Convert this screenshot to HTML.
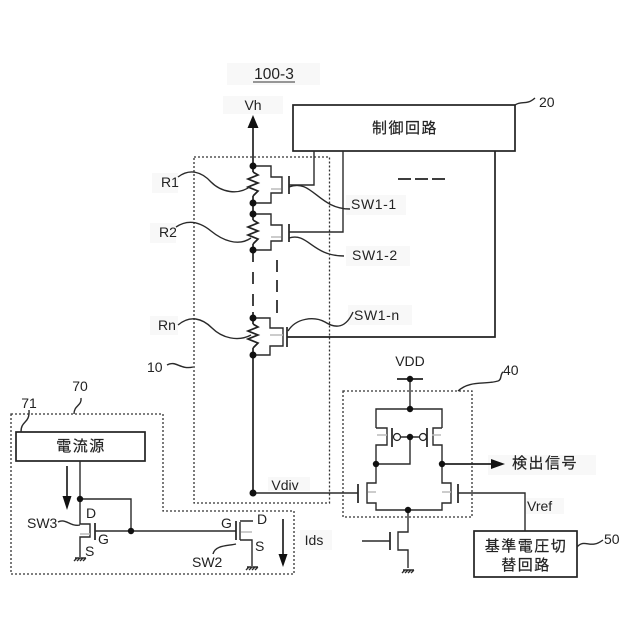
<!DOCTYPE html>
<html><head><meta charset="utf-8"><style>
html,body{margin:0;padding:0;background:#fff}
svg{display:block}
text{font-family:"Liberation Sans","Noto Sans CJK JP",sans-serif;fill:#222;font-size:14px}
.m{text-anchor:middle}
.l{fill:none;stroke:#222;stroke-width:1.7}
.t{fill:none;stroke:#2a2a2a;stroke-width:1.4}
.d{fill:none;stroke:#333;stroke-width:1.3;stroke-dasharray:2 2}
.g{fill:none;stroke:#bbb;stroke-width:1.5}
.bg{fill:#f8f8f8}
.c{font-size:15px;letter-spacing:1.5px;stroke:#222;stroke-width:.2}
.s{letter-spacing:.6px}
</style></head><body>
<svg width="640" height="640" viewBox="0 0 640 640" xmlns="http://www.w3.org/2000/svg">
<rect width="640" height="640" fill="#fff"/>
<!-- label backgrounds -->
<rect class="bg" x="227" y="63" width="93" height="22"/>
<rect class="bg" x="223" y="96" width="60" height="18"/>
<rect class="bg" x="152" y="173" width="26" height="20"/>
<rect class="bg" x="150" y="223" width="26" height="20"/>
<rect class="bg" x="150" y="316" width="28" height="19"/>
<rect class="bg" x="346" y="195" width="60" height="20"/>
<rect class="bg" x="346" y="246" width="64" height="20"/>
<rect class="bg" x="348" y="305" width="64" height="20"/>
<rect class="bg" x="268" y="477" width="42" height="14"/>
<rect class="bg" x="488" y="455" width="108" height="20"/>
<rect class="bg" x="526" y="498" width="38" height="16"/>
<rect class="bg" x="300" y="530" width="32" height="20"/>

<!-- dotted boxes -->
<rect class="d" x="194" y="157" width="135.500" height="346"/>
<rect class="d" x="343" y="391" width="129" height="126"/>
<path class="d" d="M11 414H163V511H294V574H11Z"/>

<!-- boxes -->
<rect class="l" x="293" y="105" width="222" height="46"/>
<rect class="l" x="474" y="531" width="103" height="46"/>
<rect class="l" x="16" y="432" width="129" height="29"/>

<!-- main rail -->
<path class="l" d="M253 128V250"/>
<path d="M253 115L258.500 128H247.500Z" fill="#111"/>
<path class="l" d="M253 250V262M253 272V284M253 294V306M253 312V493"/>
<path class="l" d="M277 260V272M277 280V292M277 300V313" stroke-width="1.2"/>
<!-- white behind resistors -->
<rect x="247" y="172" width="12" height="24" fill="#fff"/>
<rect x="247" y="220" width="12" height="24" fill="#fff"/>
<rect x="247" y="324" width="12" height="24" fill="#fff"/>
<path class="l" d="M253 172L258 175L248 179L258 183L248 187L258 191L253 196"/>
<path class="l" d="M253 220L258 223L248 227L258 231L248 235L258 239L253 244"/>
<path class="l" d="M253 324L258 327L248 331L258 335L248 339L258 343L253 348"/>

<!-- SW1-1 -->
<path class="t" d="M253 166H271V177H282V193H271V203H253"/>
<path class="g" d="M271 189H281"/>
<path class="l" d="M289 176V194"/>
<path class="t" d="M289 185H314V151"/>
<!-- SW1-2 -->
<path class="t" d="M253 214H271V225H282V241H271V250H253"/>
<path class="g" d="M271 237H281"/>
<path class="l" d="M289 224V242"/>
<path class="t" d="M289 232H343V151"/>
<!-- SW1-n -->
<path class="t" d="M253 318H270V328H283V346H270V355H253"/>
<path class="g" d="M270 335H283"/>
<path class="l" d="M287 327V347"/>
<path class="l" d="M287 337H495V151"/>

<circle cx="253" cy="166" r="3.500" fill="#111"/>
<circle cx="253" cy="203" r="3.500" fill="#111"/>
<circle cx="253" cy="214" r="3.500" fill="#111"/>
<circle cx="253" cy="250" r="3.500" fill="#111"/>
<circle cx="253" cy="318" r="3.500" fill="#111"/>
<circle cx="253" cy="355" r="3.500" fill="#111"/>
<path class="l" d="M398 179H411M415 179H428M432 179H445"/>

<!-- squiggles -->
<path class="t" d="M178 177C190 168 202 172 211 182C221 192 238 196 251 186"/>
<path class="t" d="M176 227C188 219 200 222 211 231C222 240 238 247 251 238"/>
<path class="t" d="M178 325C190 315 202 318 212 328C222 338 238 342 251 335"/>
<path class="t" d="M167 365C176 360 180 370 193 367"/>
<path class="t" d="M289 187C312 178 318 209 350 209"/>
<path class="t" d="M289 238C308 232 312 256 344 256"/>
<path class="t" d="M288 331C296 318 314 316 325 322C336 329 346 328 353 312"/>
<path class="t" d="M515 105C522 100 526 106 535 98"/>
<path class="t" d="M577 547C585 538 590 550 603 540"/>
<path class="t" d="M458 391C470 380 485 385 498 381C502 380 500 374 503 372"/>
<path class="t" d="M21 432C21 420 30 424 29 410"/>
<path class="t" d="M74 414C74 405 82 406 81 398"/>
<path class="t" d="M58 522C66 518 70 527 80 525"/>
<path class="t" d="M213 554C215 545 228 546 236 544"/>

<!-- comparator -->
<path class="l" d="M397 379H423"/>
<path class="t" d="M410 379V409M376 428V409H442V428"/>
<path class="t" d="M376 428H387V445H376V464M442 428H433V445H442V464"/>
<path class="g" d="M377 435H387M432 435H441"/>
<path class="l" d="M392 428V447M427 428V447"/>
<circle cx="397" cy="437" r="3.500" fill="#fff" stroke="#222" stroke-width="1.200"/>
<circle cx="423" cy="437" r="3.500" fill="#fff" stroke="#222" stroke-width="1.200"/>
<path class="t" d="M401 437H419M410 437V464H376"/>
<path class="l" d="M442 464H492"/>
<path d="M505 464L491 459V469Z" fill="#111"/>
<path class="t" d="M376 464V483H367V503H376V510H442V503H451V483H442V464"/>
<path class="g" d="M368 492H376M442 492H451"/>
<path class="l" d="M358 484V503M458 484V503"/>
<path class="t" d="M253 493H358M458 493H525V531"/>
<path class="t" d="M408 510V532H398V550H408V568"/>
<path class="l" d="M390 532V550"/>
<path class="t" d="M362 541H390"/>
<path class="t" d="M403 570H414M402 573L405 570M405 573L408 570M408 573L411 570M411 573L414 570"/>
<circle cx="410" cy="379" r="3.200" fill="#111"/>
<circle cx="410" cy="409" r="3.200" fill="#111"/>
<circle cx="410" cy="437" r="3.200" fill="#111"/>
<circle cx="376" cy="464" r="3.200" fill="#111"/>
<circle cx="442" cy="464" r="3.200" fill="#111"/>
<circle cx="408" cy="510" r="3.200" fill="#111"/>

<!-- current source & SW3 / SW2 -->
<path class="t" d="M80 461V524H90V537H80V557"/>
<path class="t" d="M80 499H131V531"/>
<path class="g" d="M80 534H90"/>
<path class="l" d="M95 523V540"/>
<path class="t" d="M95 531H236"/>
<path class="l" d="M236 521V540"/>
<path class="t" d="M240 522V540M240 521H253M240 540H252V566"/>
<path class="g" d="M241 532H252"/>
<path class="t" d="M75 558H86M74 561L77 558M77 561L80 558M80 561L83 558M83 561L86 558"/>
<path class="t" d="M247 567H258M246 570L249 567M249 570L252 567M252 570L255 567M255 570L258 567"/>
<circle cx="80" cy="499" r="3.200" fill="#111"/>
<circle cx="131" cy="531" r="3.200" fill="#111"/>
<circle cx="253" cy="493" r="3.500" fill="#111"/>
<path class="l" d="M67 466V498"/>
<path d="M67 510L62.500 496H71.500Z" fill="#111"/>
<path class="l" d="M283 519V556"/>
<path d="M283 567L278.500 554H287.500Z" fill="#111"/>

<!-- text -->
<text class="m" x="274" y="79" style="font-size:15.500px">100-3</text>
<path d="M253 82H295" stroke="#333" stroke-width="1"/>
<text class="m" x="253" y="110">Vh</text>
<text class="m c" x="405" y="133">制御回路</text>
<text x="539" y="107">20</text>
<text x="161" y="187">R1</text>
<text x="159" y="237">R2</text>
<text x="158" y="330">Rn</text>
<text x="147" y="372">10</text>
<text class="s" x="351" y="209">SW1-1</text>
<text class="s" x="352" y="260">SW1-2</text>
<text class="s" x="354" y="320">SW1-n</text>
<text class="m" x="410" y="366">VDD</text>
<text x="503" y="375">40</text>
<text class="c" x="512" y="468">検出信号</text>
<text x="527" y="511">Vref</text>
<text class="m c" x="526" y="551">基準電圧切</text>
<text class="m c" x="526" y="570">替回路</text>
<text x="604" y="544">50</text>
<text class="m" x="285" y="490">Vdiv</text>
<text class="m" x="80" y="391">70</text>
<text class="m" x="29" y="408">71</text>
<text class="m c" x="81" y="451">電流源</text>
<text x="27" y="528">SW3</text>
<text x="86" y="518">D</text>
<text x="98" y="544">G</text>
<text x="85" y="556">S</text>
<text x="221" y="528">G</text>
<text x="257" y="524">D</text>
<text x="255" y="551">S</text>
<text x="192" y="567">SW2</text>
<text class="m" x="314" y="545">Ids</text>
</svg>
</body></html>
